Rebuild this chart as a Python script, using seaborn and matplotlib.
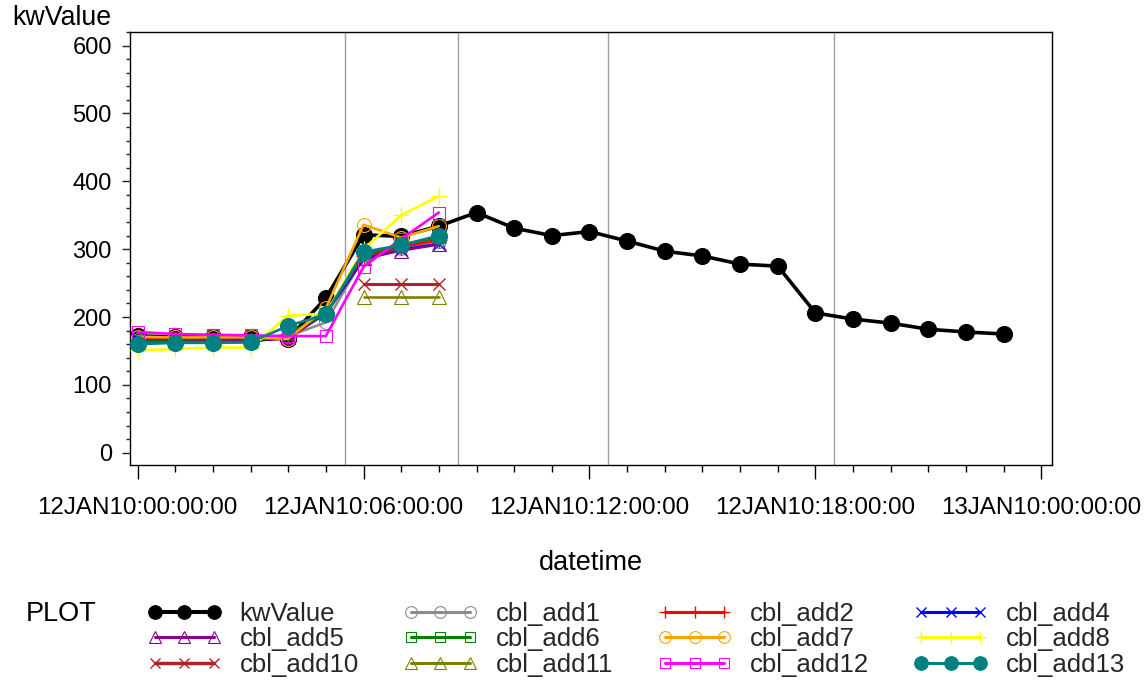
import numpy as np
import pandas as pd
import matplotlib
matplotlib.use("Agg")
import matplotlib.pyplot as plt
import matplotlib.dates as mdates
from matplotlib.lines import Line2D
from matplotlib.ticker import FuncFormatter, MultipleLocator
import seaborn as sns

# ---------------- data ----------------
start = "2010-01-12 00:00:00"
hours_kw = pd.date_range(start, periods=24, freq="h")
hours_cbl = pd.date_range(start, periods=9, freq="h")

kwValue = [172, 171, 170, 170, 168, 228, 321, 319, 334, 354, 331, 320, 326,
           312, 297, 290, 278, 275, 206, 197, 191, 182, 178, 175]
cbl_add1 = [166, 166, 165, 165, 172, 192, 288, 302, 312]
cbl_add2 = [167, 167, 166, 166, 168, 207, 290, 303, 314]
cbl_add4 = [165, 165, 164, 164, 170, 205, 285, 299, 308]
cbl_add5 = [166, 166, 165, 165, 170, 206, 287, 298, 307]
cbl_add6 = [164, 164, 163, 163, 175, 205, 292, 306, 318]
cbl_add7 = [171, 170, 170, 170, 168, 213, 336, 317, 334]
cbl_add8 = [151, 153, 155, 155, 202, 205, 300, 350, 378]
cbl_add10 = [np.nan] * 6 + [248, 248, 248]
cbl_add11 = [np.nan] * 6 + [229, 229, 229]
cbl_add12 = [178, 175, 174, 173, 172, 172, 274, 315, 354]
cbl_add13 = [160, 162, 162, 163, 187, 204, 296, 306, 320]

ref_times = pd.to_datetime(["2010-01-12 05:30", "2010-01-12 08:30",
                            "2010-01-12 12:30", "2010-01-12 18:30"])

# name, x, y, color, marker, filled, markersize, linewidth
series = [
    ("kwValue", hours_kw, kwValue, "#000000", "o", True, 11.5, 2.6),
    ("cbl_add1", hours_cbl, cbl_add1, "#8c8c8c", "o", False, 10, 1.9),
    ("cbl_add2", hours_cbl, cbl_add2, "#ff0000", "+", False, 11, 1.9),
    ("cbl_add4", hours_cbl, cbl_add4, "#0000ff", "x", False, 9, 1.9),
    ("cbl_add5", hours_cbl, cbl_add5, "#8b008b", "^", False, 10, 1.9),
    ("cbl_add6", hours_cbl, cbl_add6, "#008000", "s", False, 9, 1.9),
    ("cbl_add7", hours_cbl, cbl_add7, "#ffa500", "o", False, 10, 1.9),
    ("cbl_add8", hours_cbl, cbl_add8, "#ffff00", "+", False, 11, 1.9),
    ("cbl_add10", hours_cbl, cbl_add10, "#b22222", "x", False, 9, 2.2),
    ("cbl_add11", hours_cbl, cbl_add11, "#808000", "^", False, 10, 1.9),
    ("cbl_add12", hours_cbl, cbl_add12, "#ff00ff", "s", False, 9, 1.9),
    ("cbl_add13", hours_cbl, cbl_add13, "#008080", "o", True, 11.5, 1.9),
]

# ---------------- style ----------------
sns.set_style("ticks")
plt.rcParams["font.family"] = ["Liberation Sans", "DejaVu Sans"]

fig = plt.figure(figsize=(11.46, 6.82), dpi=100)
ax = fig.add_axes([130 / 1146, 1 - 465 / 682, (1052 - 130) / 1146, (465 - 32) / 682])

for t in ref_times:
    ax.axvline(t, color="#a0a0a0", lw=1.0, zorder=1)

handles = {}
for i, (name, xs, ys, col, mk, filled, ms, lw) in enumerate(series):
    y = np.asarray(ys, dtype=float)
    mask = ~np.isnan(y)
    x = np.asarray(xs)[mask]
    fc = col if filled else "none"
    mew = 1.0 if mk in ("+", "x") else 0.8
    sns.lineplot(x=x, y=y[mask], ax=ax, color=col, marker=mk, markersize=ms,
                 markerfacecolor=fc, markeredgecolor=col, markeredgewidth=mew,
                 linewidth=lw, legend=False, zorder=3 + i, estimator=None)
    handles[name] = Line2D([], [], color=col, marker=mk, markersize=ms * 0.85,
                           markerfacecolor=fc, markeredgecolor=col,
                           markeredgewidth=mew, linewidth=lw + 0.3)

ax.set_xlim(pd.Timestamp("2010-01-12") - pd.Timedelta(hours=0.2),
            pd.Timestamp("2010-01-12") + pd.Timedelta(hours=24.28))
ax.set_ylim(-18, 620)

ax.xaxis.set_major_locator(mdates.HourLocator(byhour=[0, 6, 12, 18]))
ax.xaxis.set_minor_locator(mdates.HourLocator())
ax.xaxis.set_major_formatter(FuncFormatter(
    lambda v, p: mdates.num2date(v).strftime("%d%b%y:%H:%M:%S").upper()))
ax.yaxis.set_major_locator(MultipleLocator(100))
ax.yaxis.set_minor_locator(MultipleLocator(20))

ax.tick_params(axis="x", which="major", length=10, width=1, pad=13,
               labelsize=17.4, color="#000000", labelcolor="#000000")
ax.tick_params(axis="x", which="minor", length=5, width=1, color="#000000")
ax.tick_params(axis="y", which="major", length=6, width=1, pad=7,
               labelsize=17, color="#222222", labelcolor="#000000")
ax.tick_params(axis="y", which="minor", length=3, width=1, color="#222222")

for sp in ax.spines.values():
    sp.set_visible(True)
    sp.set_color("#000000")
    sp.set_linewidth(1.0)

ax.set_xlabel("datetime", fontsize=19.5, labelpad=22.5, color="#000000")
ax.set_ylabel("kwValue", fontsize=19.3, rotation=0, ha="left", va="center",
              color="#000000")
ax.yaxis.set_label_coords(-0.128, 1.032)

# legend (row-major display with 4 columns)
order = ["kwValue", "cbl_add5", "cbl_add10",
         "cbl_add1", "cbl_add6", "cbl_add11",
         "cbl_add2", "cbl_add7", "cbl_add12",
         "cbl_add4", "cbl_add8", "cbl_add13"]
fig.legend([handles[n] for n in order], order, loc="upper left",
           bbox_to_anchor=(147 / 1146, 1 - 602 / 682), ncol=4, numpoints=3,
           frameon=False, fontsize=18.5, handlelength=2.9, handletextpad=0.7,
           columnspacing=1.73, labelspacing=0.05, borderpad=0, borderaxespad=0)
fig.text(26 / 1146, 1 - 614 / 682, "PLOT", fontsize=19.5, va="center", ha="left",
         color="#000000")

fig.savefig("out.png", dpi=100)
